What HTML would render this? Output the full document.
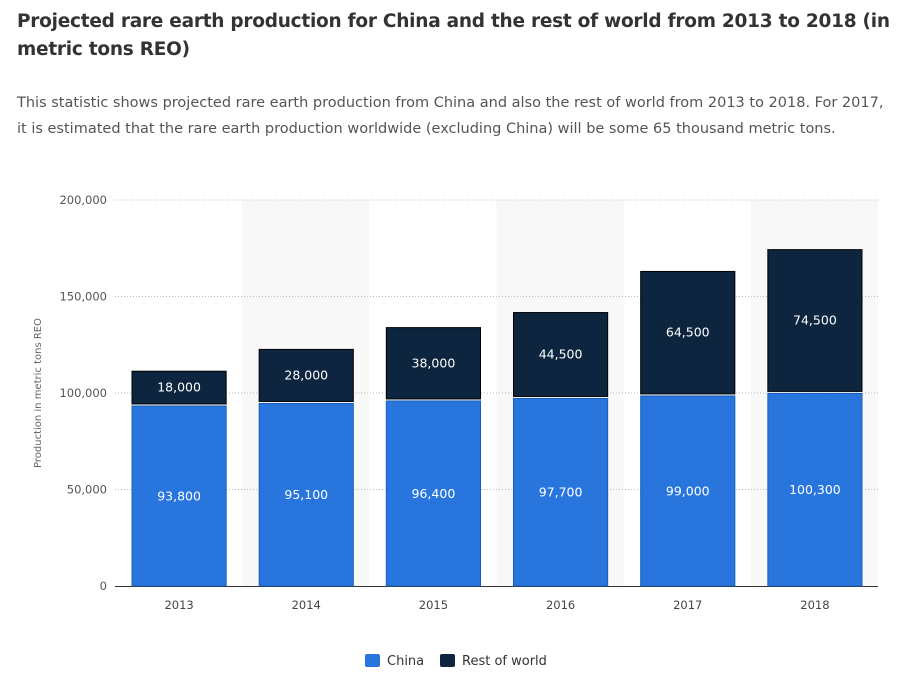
<!DOCTYPE html>
<html><head><meta charset="utf-8"><style>
body{margin:0;width:900px;height:686px;background:#fff;font-family:"DejaVu Sans","Liberation Sans",sans-serif;overflow:hidden}
h1{position:absolute;left:17px;top:8px;margin:0;width:880px;font-size:18.5px;letter-spacing:-0.25px;line-height:28px;font-weight:bold;color:#333}
p{position:absolute;left:17px;top:90px;margin:0;width:875px;font-size:14.5px;line-height:26px;color:#555}
</style></head><body>
<h1>Projected rare earth production for China and the rest of world from 2013 to 2018 (in metric tons REO)</h1>
<p>This statistic shows projected rare earth production from China and also the rest of world from 2013 to 2018. For 2017, it is estimated that the rare earth production worldwide (excluding China) will be some 65 thousand metric tons.</p>
<svg id="chart" width="900" height="686" style="position:absolute;left:0;top:0" font-family="DejaVu Sans, Liberation Sans, sans-serif"></svg>
<script>
const categories=["2013","2014","2015","2016","2017","2018"];
const china=[93800,95100,96400,97700,99000,100300];
const rest=[18000,28000,38000,44500,64500,74500];
const ticks=[0,50000,100000,150000,200000];
const svg=document.getElementById('chart');
const NS='http://www.w3.org/2000/svg';
const X0=115,X1=878,Y0=586,Y1=200,YMAX=200000;
const bw=(X1-X0)/categories.length;
const y=v=>Y0-(v/YMAX)*(Y0-Y1);
const xb=i=>X0+i*bw;
function mk(t,a,txt){const e=document.createElementNS(NS,t);for(const k in a)e.setAttribute(k,a[k]);if(txt!=null)e.textContent=txt;svg.appendChild(e);return e;}
const fmt=v=>v.toLocaleString('en-US');
categories.forEach((c,i)=>{if(i%2==1){const r=mk('rect',{x:xb(i),y:Y1,width:bw,height:Y0-Y1,fill:'#f8f8f8'});

}});
ticks.forEach(t=>{if(t>0){const l=mk('line',{x1:X0,x2:X1,y1:y(t),y2:y(t),stroke:'#bbb','stroke-dasharray':'1,2'});

}
const tx=mk('text',{x:107,y:y(t)+4,'text-anchor':'end','font-size':11.5,fill:'#555'},fmt(t));

});
const ax=mk('line',{x1:X0,x2:X1,y1:Y0+0.5,y2:Y0+0.5,stroke:'#333','stroke-width':1});


const yt=mk('text',{transform:'translate(41,393) rotate(-90)','text-anchor':'middle','font-size':10,fill:'#666'},'Production in metric tons REO');


categories.forEach((c,i)=>{
const x=xb(i)+17,w=bw-33;
const yc=y(china[i]),yr=y(china[i]+rest[i]);
const b1=mk('rect',{x:x,y:yc+1,width:w,height:Y0-yc-1,fill:'#2876dd',stroke:'#1a5fb8','stroke-width':1});


const b2=mk('rect',{x:x,y:yr+1,width:w,height:yc-yr-2,fill:'#0d253f',stroke:'#000','stroke-width':1});


const l1=mk('text',{x:x+w/2,y:(yc+Y0)/2+5,'text-anchor':'middle','font-size':12.5,fill:'#fff'},fmt(china[i]));


const l2=mk('text',{x:x+w/2,y:(yr+yc)/2+4,'text-anchor':'middle','font-size':12.5,fill:'#fff'},fmt(rest[i]));


const xl=mk('text',{x:x+w/2,y:609,'text-anchor':'middle','font-size':11.5,fill:'#444'},c);


});
const g1=mk('rect',{x:365,y:654,width:15,height:13,fill:'#2876dd',rx:2});


const t1=mk('text',{x:387,y:665,'font-size':13,fill:'#333'},'China');


const g2=mk('rect',{x:440,y:654,width:15,height:13,fill:'#0d253f',rx:2});


const t2=mk('text',{x:462,y:665,'font-size':13,fill:'#333'},'Rest of world');


</script>
</body></html>
